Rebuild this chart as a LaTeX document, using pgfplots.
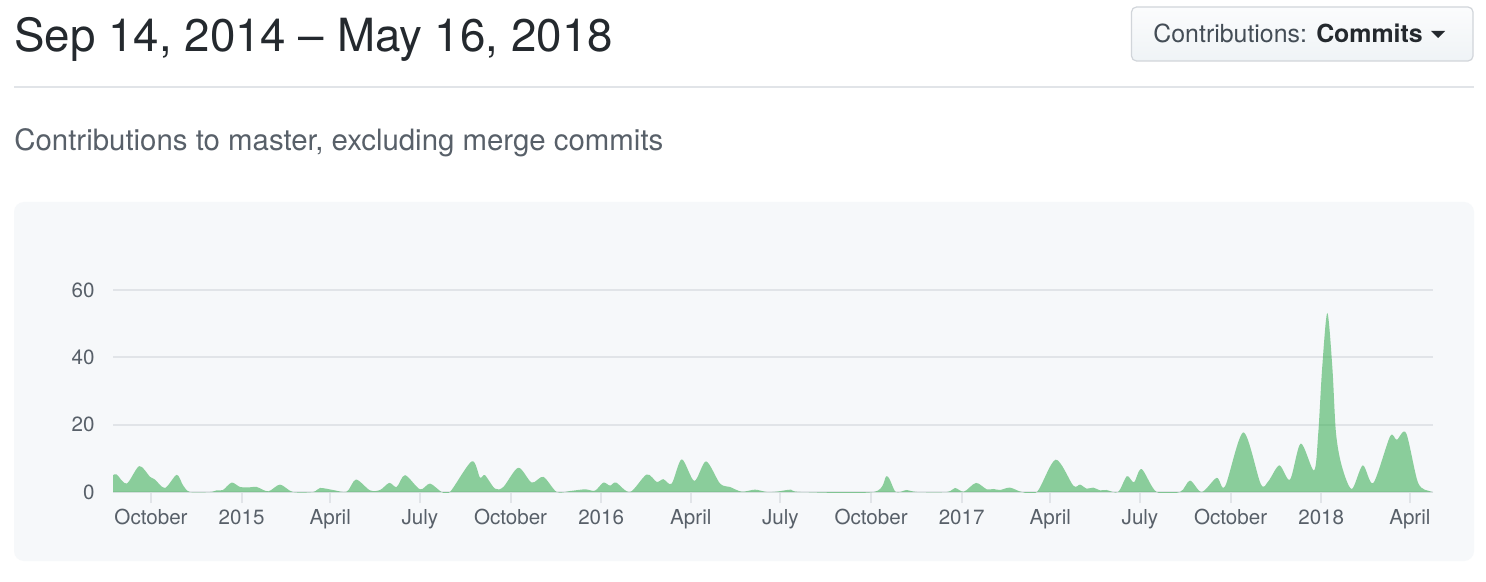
\documentclass[border=0pt]{standalone}
\usepackage{pgfplots}
\usepackage{fontspec}
\pgfplotsset{compat=1.18}
\setmainfont{TeX Gyre Heros}

\definecolor{textdark}{RGB}{36,41,46}
\definecolor{textgray}{RGB}{88,96,105}
\definecolor{btntext}{RGB}{68,77,86}
\definecolor{gridc}{RGB}{225,228,232}
\definecolor{panelbg}{RGB}{246,248,250}
\definecolor{btnborder}{RGB}{209,213,218}
\definecolor{commitgreen}{RGB}{40,167,69}

\begin{document}
\begin{tikzpicture}[x=0.5pt,y=-0.5pt]
% page and panel, in pixel units of the reference
\fill[white] (0,0) rectangle (1486,582);
\node[anchor=base west, inner sep=0pt, text=textdark,
      font=\fontsize{22.85}{23}\selectfont] at (14,52) {Sep 14, 2014 – May 16, 2018};
\shade[top color=white!60!panelbg, bottom color={rgb,255:red,239;green,243;blue,246},
       draw=btnborder, line width=0.6pt, rounded corners=2.5pt] (1131.5,7) rectangle (1473,61);
\node[anchor=base west, inner sep=0pt, font=\fontsize{12.45}{12}\selectfont] at (1153,43)
  {\textcolor{btntext}{Contributions:} \textcolor{textdark}{\bfseries Commits}};
\fill[textdark] (1431,31) -- (1445,31) -- (1438,38) -- cycle;
\draw[gridc, line width=1pt] (14,87) -- (1474,87);
\node[anchor=base west, inner sep=0pt, text=textgray,
      font=\fontsize{14.7}{14}\selectfont] at (14,151) {Contributions to master, excluding merge commits};
\fill[panelbg, rounded corners=5pt] (14,202) rectangle (1474,561);

\begin{axis}[
    at={(56.5pt,-246pt)}, anchor=south west,
    scale only axis, width=660pt, height=101pt,
    xmin=-38.6, xmax=1301.5, ymin=0, ymax=60,
    axis line style={draw=none},
    ytick={0,20,40,60},
    ymajorgrids, grid style={gridc, line width=1pt},
    ytick style={draw=none},
    xtick={0,92,182,273,365,457,548,639,731,823,913,1004,1096,1188,1278},
    xticklabels={October,2015,April,July,October,2016,April,July,October,2017,April,July,October,2018,April},
    xtick pos=left, ytick pos=left,
    xtick align=outside,
    xtick style={gridc, line width=1pt},
    major tick length=5.5pt,
    tick label style={text=textgray, font=\fontsize{10.3}{10}\selectfont},
    /pgf/number format/assume math mode=true,
    yticklabel style={inner sep=0pt, xshift=-9pt},
    xticklabel style={inner sep=0pt, yshift=-3pt},
  ]
  % weekly commits (x: days since 1 Oct 2014)
  \addplot[draw=none, fill=commitgreen, fill opacity=0.52, smooth, tension=0.5] coordinates {
    (-38.6,5.0) (-34.8,5.2) (-24.7,2.5) (-11.9,7.7) (-1,4.5) (4,3.7) (14.2,1.2)
    (26.1,5.1) (32.5,2) (39.6,0) (59.9,0) (66.7,0.5) (73,0.6) (81.9,2.8)
    (90.4,1.5) (100.5,1.4) (107.3,1.5) (119.1,0.2) (131,2.2) (144,0) (164.5,0)
    (171.6,1.2) (184.8,0.6) (198.7,0.1) (208.1,3.7) (222.3,0.5) (232.5,0.6)
    (241.9,2.7) (249.4,1.5) (257.9,5) (273.1,0.8) (283.2,2.5) (295.1,0) (303.5,0)
    (325.6,9.1) (334,4.3) (339,5) (349.2,1) (357.7,1.5) (372.9,7.2) (386.5,2.8)
    (398.3,4.5) (411.9,0) (425.4,0.3) (440.6,0.8) (450.7,0.4) (459.2,2.8)
    (466,1.9) (472.1,2.8) (486.3,0) (503.2,5.2) (513.4,3) (520.1,3.8) (528.6,2.5)
    (538.8,9.7) (551.6,3.3) (563.5,9.1) (577.7,2.5) (587.8,1.5) (599.7,0.1)
    (613.2,0.7) (625.1,0) (635,0.1) (649.6,0.7) (659.7,0) (733.8,0) (747,4.7)
    (756.1,0) (767.1,0.6) (777.6,0) (808,0) (816.2,1.2) (825.3,0.1) (837.5,2.7)
    (848.4,0.8) (855.1,0.9) (862,0.6) (872,1.3) (884.2,0) (899.4,0) (918.4,9.6)
    (936.3,1.9) (943.1,2.2) (950,1) (956.6,1.3) (963.4,0.5) (970,0.6) (981.7,0)
    (990.8,4.7) (997.9,2.9) (1005.7,6.8) (1020.9,0) (1044.6,0) (1054.8,3.4)
    (1066.7,0) (1081.9,4.2) (1090.4,1.7) (1109,17.7) (1126.6,2.4) (1134.3,3.2)
    (1145.5,7.9) (1156.3,3.7) (1167.2,14.4) (1180.7,6.4) (1185,17.5) (1189,37)
    (1194.2,53.2) (1199.3,37) (1203,17.5) (1209,7.6) (1219,0.9) (1230.2,7.9)
    (1240.9,2.7) (1257.9,16.5) (1264.7,15.5) (1274.2,17.5) (1286.4,2.7)
    (1298.6,0.2) (1301.5,0)
  } \closedcycle;
\end{axis}
\end{tikzpicture}
\end{document}
